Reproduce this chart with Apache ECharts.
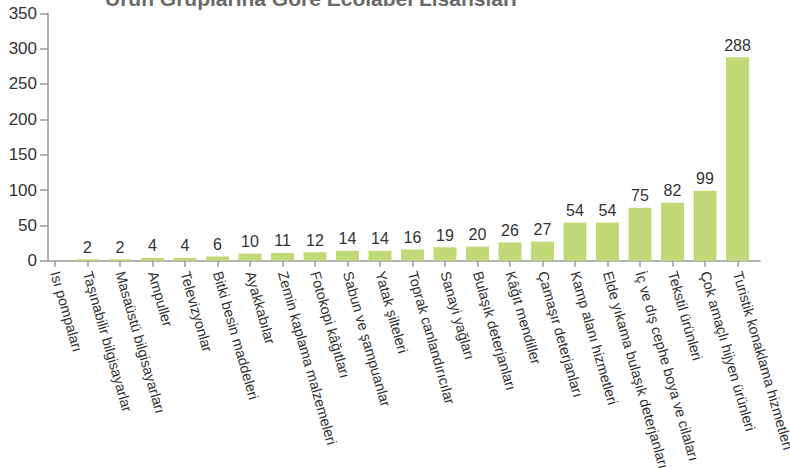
<!DOCTYPE html>
<html>
<head>
<meta charset="utf-8">
<script src="https://cdn.jsdelivr.net/npm/echarts@6/dist/echarts.min.js"></script>
<style>html,body{margin:0;padding:0;background:#fff}#c{width:790px;height:468px}</style>
</head>
<body>
<div id="c"></div>
<script>
const titleText = 'Ürün Gruplarına Göre Ecolabel Lisansları';
const categories = ['Isı pompaları','Taşınabilir bilgisayarlar','Masaüstü bilgisayarları','Ampuller','Televizyonlar','Bitki besin maddeleri','Ayakkabılar','Zemin kaplama malzemeleri','Fotokopi kâğıtları','Sabun ve şampuanlar','Yatak şilteleri','Toprak canlandırıcılar','Sanayi yağları','Bulaşık deterjanları','Kâğıt mendiller','Çamaşır deterjanları','Kamp alanı hizmetleri','Elde yıkama bulaşık deterjanları','İç ve dış cephe boya ve cilaları','Tekstil ürünleri','Çok amaçlı hijyen ürünleri','Turistik konaklama hizmetleri'];
const licences = [0,2,2,4,4,6,10,11,12,14,14,16,19,20,26,27,54,54,75,82,99,288];
const yMin = 0, yMax = 350, yStep = 50;

const font = 'Liberation Sans, Arial, sans-serif';
const axisColor = '#9a9a9a';
const chart = echarts.init(document.getElementById('c'), null, {renderer: 'svg'});
chart.setOption({
  animation: false,
  title: {
    text: titleText, left: 105, top: -12, padding: 0,
    textStyle: {fontFamily: font, fontSize: 21, fontWeight: 'bold', color: '#6a6a6a'}
  },
  grid: [
    {left: 48, right: 30, top: 13.3, bottom: 207.3, containLabel: false, outerBoundsMode: 'none'},
    {left: 38.75, right: 36.25, top: 13.3, bottom: 207.3, containLabel: false, outerBoundsMode: 'none'}
  ],
  xAxis: [
    {gridIndex: 0, type: 'value', min: 0, max: 1,
     axisLine: {show: true, lineStyle: {color: axisColor, width: 1.5}},
     axisTick: {show: false}, axisLabel: {show: false}, splitLine: {show: false}},
    {gridIndex: 1, type: 'category', data: categories,
     axisLine: {show: false},
     axisTick: {show: true, alignWithLabel: true, length: 6, lineStyle: {color: axisColor, width: 1.5}},
     axisLabel: {interval: 0, rotate: -74, margin: 11, color: '#333', fontSize: 14.4, fontFamily: font, hideOverlap: false},
     splitLine: {show: false}}
  ],
  yAxis: [
    {gridIndex: 0, type: 'value', min: yMin, max: yMax, interval: yStep,
     axisLine: {show: true, lineStyle: {color: axisColor, width: 1.5}},
     axisTick: {show: true, length: 8, lineStyle: {color: axisColor, width: 1.5}},
     axisLabel: {margin: 11, color: '#333', fontSize: 17, fontFamily: font},
     splitLine: {show: false}},
    {gridIndex: 1, type: 'value', min: yMin, max: yMax, interval: yStep, show: false}
  ],
  series: [{
    type: 'bar', xAxisIndex: 1, yAxisIndex: 1,
    data: licences, barWidth: 23,
    itemStyle: {color: '#c2d977'},
    label: {show: true, position: 'top', distance: 4, color: '#333', fontSize: 16, fontFamily: font,
      formatter: p => p.value === 0 ? '' : String(p.value)}
  }]
});
</script>
</body>
</html>
